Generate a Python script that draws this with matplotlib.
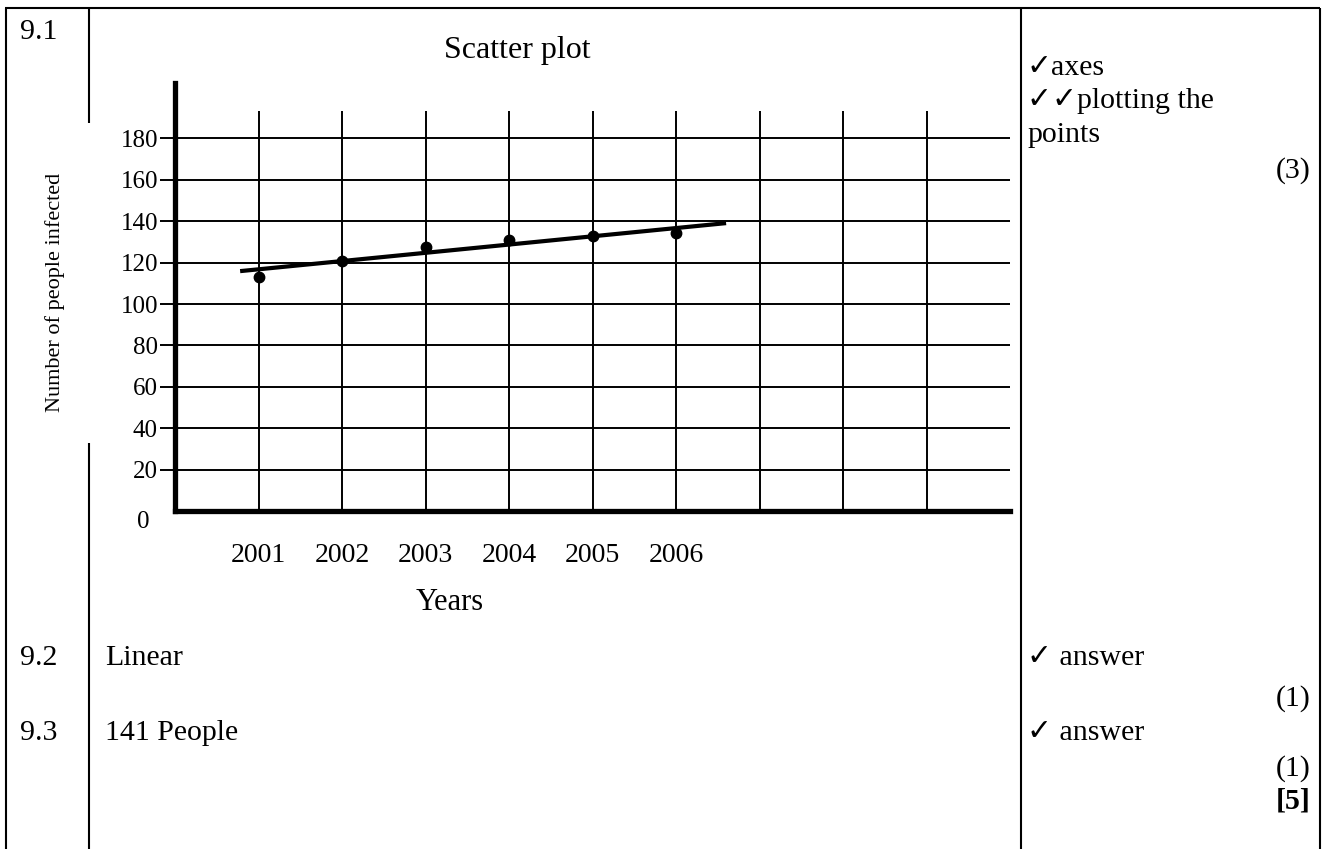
import matplotlib
matplotlib.use("Agg")
import matplotlib.pyplot as plt
from matplotlib.lines import Line2D

# ---- data ----
years = [2001, 2002, 2003, 2004, 2005, 2006]
year_labels = ["2001", "2002", "2003", "2004", "2005", "2006"]
infected = [113, 121, 127.5, 131, 133, 134.5]
trend_x = [2000.78, 2006.6]
trend_y = [115.9, 139.1]
grid_years = [2001, 2002, 2003, 2004, 2005, 2006, 2007, 2008, 2009]
y_ticks = [20, 40, 60, 80, 100, 120, 140, 160, 180]
y_tick_labels = ["20", "40", "60", "80", "100", "120", "140", "160", "180"]

W, H = 1325, 849
plt.rcParams['font.family'] = ['Liberation Serif', 'DejaVu Sans']
fig = plt.figure(figsize=(W / 100, H / 100), dpi=100)
fig.patch.set_facecolor('white')


def fx(x):
    return x / W


def fy(y):
    return 1 - y / H


def fline(x0, y0, x1, y1, lw=1.5):
    fig.add_artist(Line2D([fx(x0), fx(x1)], [fy(y0), fy(y1)], color='black',
                          lw=lw, transform=fig.transFigure, solid_capstyle='butt'))


# table lines
fline(5, 8, 1320, 8)
fline(6, 8, 6, 849)
fline(1320, 8, 1320, 849)
fline(89, 8, 89, 123)
fline(89, 443, 89, 849)
fline(1021, 8, 1021, 849)

# chart axes
x0, x1, ybot, ytop = 175, 1010, 511, 83
ax = fig.add_axes([fx(x0), fy(ybot), (x1 - x0) / W, (ybot - ytop) / H])
ax.set_xlim(2000, 2010)
ax.set_ylim(0, 206.8)
ax.patch.set_alpha(0)
for s in ['top', 'right']:
    ax.spines[s].set_visible(False)
ax.spines['left'].set_linewidth(3.8)
ax.spines['bottom'].set_linewidth(3.8)

ax.hlines(y_ticks, 2000, 2010, color='black', lw=1.4, zorder=1)
ax.vlines(grid_years, 0, 193.3, color='black', lw=1.4, zorder=1)

ax.set_yticks(y_ticks)
ax.set_yticklabels(y_tick_labels, fontsize=18)
ax.tick_params(axis='y', direction='out', length=10.8, width=1.4, pad=1.5)
ax.set_xticks(years)
ax.set_xticklabels(year_labels, fontsize=20)
ax.tick_params(axis='x', length=0, pad=23)

ax.plot(trend_x, trend_y, color='black', lw=3, solid_capstyle='butt', zorder=3)
ax.plot(years, infected, 'o', color='black', ms=7.5, zorder=4)

# "0" label
fig.text(fx(150), fy(522), "0", fontsize=18, ha='right', va='center')

# titles / labels
fig.text(fx(517), fy(58), "Scatter plot", fontsize=23, ha='center', va='baseline')
fig.text(fx(450), fy(602), "Years", fontsize=22, ha='center', va='center')
fig.text(fx(55), fy(292), "Number of people infected", fontsize=16,
         rotation=90, ha='center', va='center')

# table text
fs = 21.5
fig.text(fx(20), fy(39), "9.1", fontsize=fs, va='baseline')
fig.text(fx(20), fy(665), "9.2", fontsize=fs, va='baseline')
fig.text(fx(20), fy(740), "9.3", fontsize=fs, va='baseline')
fig.text(fx(105), fy(665), "Linear", fontsize=fs, va='baseline')
fig.text(fx(105), fy(740), "141 People", fontsize=fs, va='baseline')

fig.text(fx(1027), fy(75), "\u2713axes", fontsize=fs, va='baseline')
fig.text(fx(1027), fy(108), "\u2713\u2713plotting the", fontsize=fs, va='baseline')
fig.text(fx(1027), fy(142), "points", fontsize=fs, va='baseline')
fig.text(fx(1311), fy(178), "(3)", fontsize=fs, ha='right', va='baseline')

fig.text(fx(1027), fy(665), "\u2713 answer", fontsize=fs, va='baseline')
fig.text(fx(1311), fy(706), "(1)", fontsize=fs, ha='right', va='baseline')
fig.text(fx(1027), fy(740), "\u2713 answer", fontsize=fs, va='baseline')
fig.text(fx(1311), fy(776), "(1)", fontsize=fs, ha='right', va='baseline')
fig.text(fx(1311), fy(809), "[5]", fontsize=fs, ha='right', va='baseline',
         fontweight='bold')

fig.savefig("out.png", dpi=100, facecolor='white')
